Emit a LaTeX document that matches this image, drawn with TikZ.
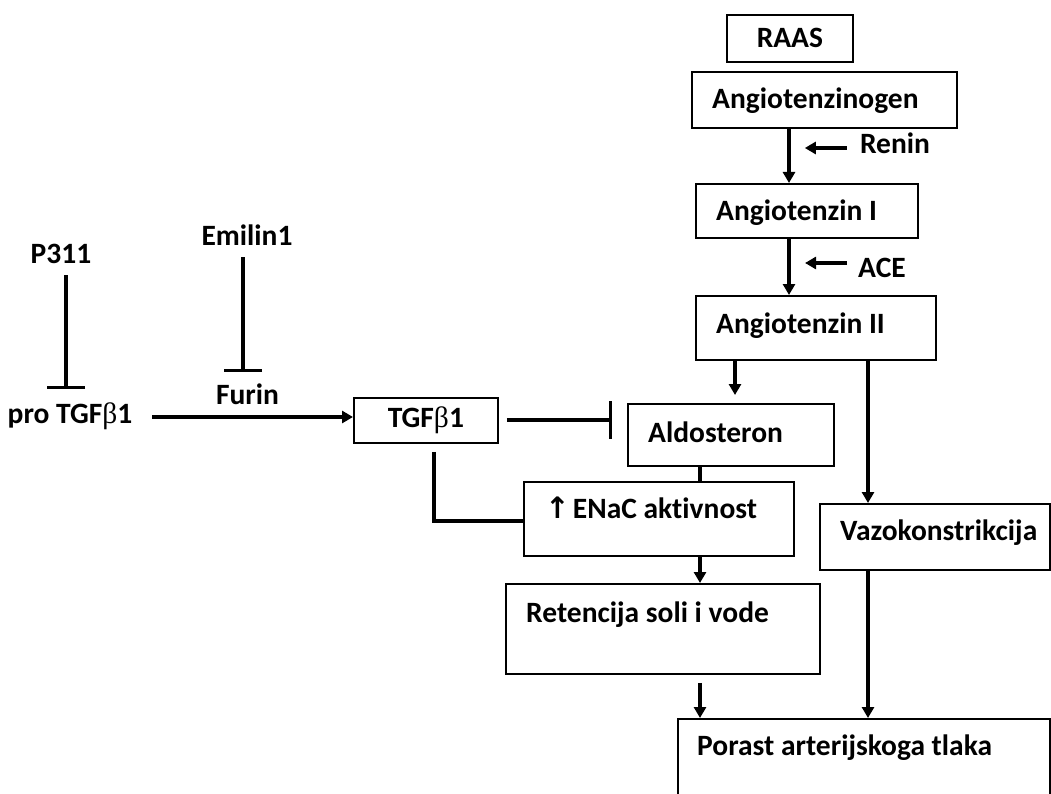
\documentclass[tikz,border=0pt]{standalone}
\usepackage{fontspec}
\setmainfont{Carlito}[Ligatures=NoCommon]
\newfontfamily\dejavu{DejaVu Sans}
\newfontfamily\grk{Liberation Serif}
\usetikzlibrary{arrows.meta}
\newcommand{\bet}{{\grk\mdseries β}}
\tikzset{
  conn/.style={line width=3.2pt},
  arr/.style={conn, -{Triangle[length=11pt,width=12pt]}},
  inh/.style={conn, -{Bar[width=38pt]}},
  box/.style={draw, line width=1.8pt, inner sep=0pt, anchor=north west},
  lbl/.style={font=\bfseries\fontsize{29.5}{33}\selectfont, inner sep=0pt}
}
\begin{document}
\begin{tikzpicture}[x=1pt,y=-1pt]
\clip (0,0) rectangle (1051,794);
\fill[white] (0,0) rectangle (1051,794);
% boxes
\node[box, minimum width=126pt, minimum height=47pt] (raas) at (726,14) {};
\node[lbl] (raas-t) at (raas.center) {RAAS};
\node[box, minimum width=265pt, minimum height=56pt] (agen) at (691,71) {};
\node[lbl, anchor=base west] (agen-t) at (712,109) {Angiotenzinogen};
\node[box, minimum width=222pt, minimum height=54pt] (ang1) at (695,183) {};
\node[lbl, anchor=base west] (ang1-t) at (716,221) {Angiotenzin I};
\node[box, minimum width=240pt, minimum height=64pt] (ang2) at (695,295) {};
\node[lbl, anchor=base west] (ang2-t) at (716,333) {Angiotenzin II};
\node[box, minimum width=206pt, minimum height=62pt] (ald) at (627,403) {};
\node[lbl, anchor=base west] (ald-t) at (648,442) {Aldosteron};
\node[box, minimum width=270pt, minimum height=74pt] (enac) at (523,481) {};
\node[lbl, anchor=base west] (enac-t) at (545,518) {{\dejavu ↑}\hspace{3pt}ENaC aktivnost};
\node[box, minimum width=314pt, minimum height=90pt] (ret) at (505,583) {};
\node[lbl, anchor=base west] (ret-t) at (526,622) {Retencija soli i vode};
\node[box, minimum width=230pt, minimum height=66pt] (vazo) at (819,503) {};
\node[lbl, anchor=base west] (vazo-t) at (840,540) {Vazokonstrikcija};
\node[box, minimum width=372pt, minimum height=110pt] (por) at (677,718) {};
\node[lbl, anchor=base west] (por-t) at (697,755) {Porast arterijskoga tlaka};
\node[box, minimum width=144pt, minimum height=45pt] (tgf) at (353,397) {};
\node[lbl] (tgf-t) at (tgf.center) {TGF\bet1};
% free labels
\node[lbl, anchor=base] (renin) at (895,154) {Renin};
\node[lbl, anchor=base] (ace) at (882,277) {ACE};
\node[lbl, anchor=base] (p311) at (61,263) {P311};
\node[lbl, anchor=base] (emilin) at (247,245) {Emilin1};
\node[lbl, anchor=base] (furin) at (247.5,404) {Furin};
\node[lbl, anchor=base] (pro) at (70,423) {pro TGF\bet1};
% columns
\coordinate (cA) at (789,0);
\coordinate (cB) at (735,0);
\coordinate (cC) at (868,0);
\coordinate (cD) at (700,0);
% connectors
\draw[arr] (agen.south -| cA) -- (ang1.north -| cA);
\draw[arr] (ang1.south -| cA) -- (ang2.north -| cA);
\draw[arr] ([shift={(-13pt,6pt)}]renin.base west) -- ++(-42,0);
\draw[arr] ([shift={(-11pt,14pt)}]ace.base west) -- ++(-42,0);
\draw[arr, shorten >=8pt] (ang2.south -| cB) -- (ald.north -| cB);
\draw[arr] (ang2.south -| cC) -- (vazo.north -| cC);
\draw[arr] (vazo.south -| cC) -- (por.north -| cC);
\draw[conn] (ald.south -| cD) -- (enac.north -| cD);
\draw[arr] (enac.south -| cD) -- (ret.north -| cD);
\draw[arr, shorten <=8pt] (ret.south -| cD) -- (por.north -| cD);
\draw[arr] ([shift={(20pt,6pt)}]pro.base east) -- (tgf.west |- 0,417);
\draw[inh, shorten <=8pt, shorten >=15pt] (tgf.east |- 0,420) -- (ald.west |- 0,420);
\draw[conn, shorten <=8pt] (tgf.south -| 434,0) |- (enac.west |- 0,521);
\draw[inh] ([shift={(5pt,-12pt)}]p311.base) -- ([shift={(-4pt,34pt)}]pro.base);
\draw[inh] ([shift={(-4pt,-12pt)}]emilin.base) -- ([shift={(-4.5pt,32pt)}]furin.base);
\end{tikzpicture}
\end{document}
